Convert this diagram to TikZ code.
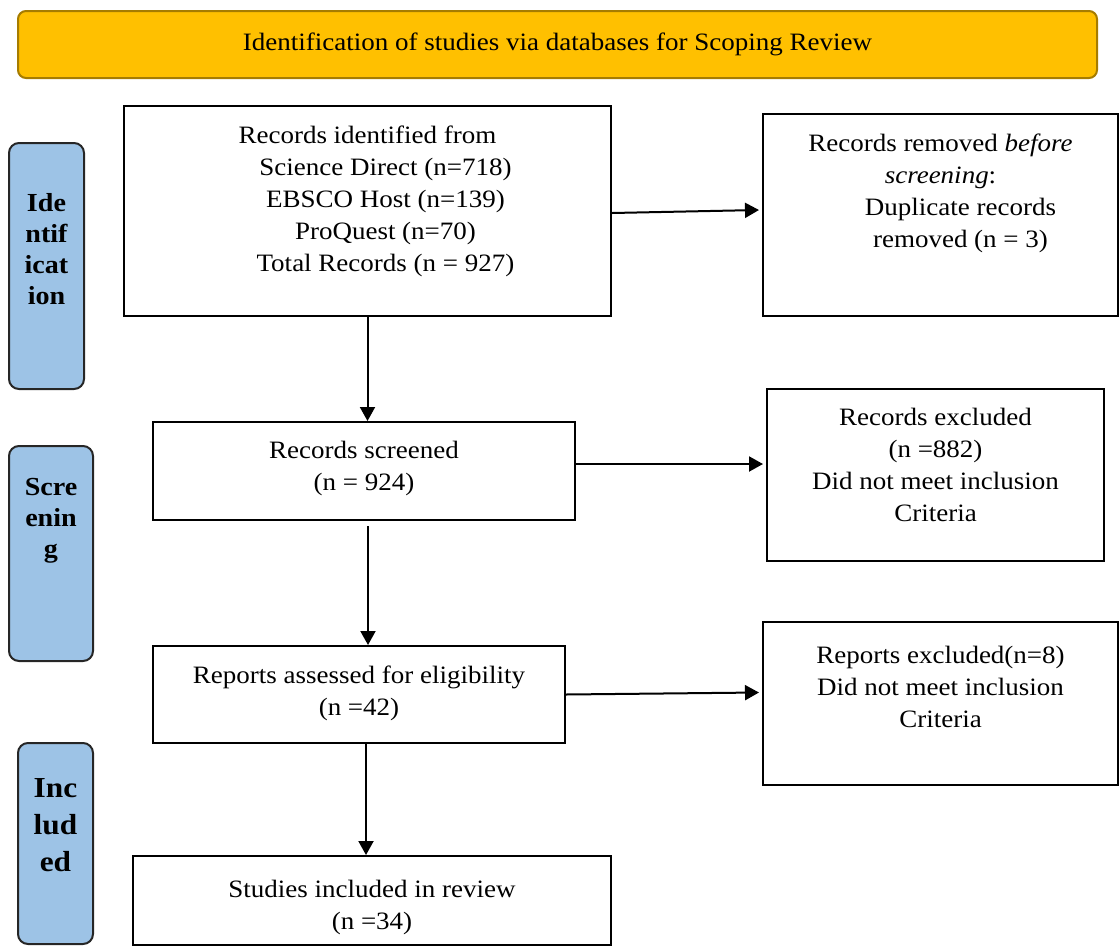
\documentclass[tikz,border=0pt]{standalone}
\usepackage{fontspec}
\setmainfont{Liberation Serif}[FakeStretch=1.08]
\usetikzlibrary{positioning,arrows.meta}

\definecolor{headgold}{HTML}{FFC000}
\definecolor{headedge}{HTML}{A67C00}
\definecolor{stageblue}{HTML}{9DC3E6}

\tikzset{
	box/.style={draw, line width=2pt, rectangle, inner sep=0pt},
	stage/.style={draw=black!85, line width=2pt, fill=stageblue, rounded corners=10pt, inner sep=0pt},
	txt/.style={align=center, font=\fontsize{25}{32}\selectfont, inner sep=0pt},
	stagetxt/.style={align=center, font=\fontsize{26}{31}\selectfont\bfseries, inner sep=0pt},
	arr/.style={-{Triangle[length=14pt,width=15pt]}, line width=2pt},
}

\begin{document}
\begin{tikzpicture}[x=1pt, y=-1pt]

	\useasboundingbox (0,0) rectangle (1120,946);

	% header bar
	\node[draw=headedge, line width=2pt, fill=headgold, rounded corners=8pt,
		minimum width=1079pt, minimum height=67pt, txt] (head) at (557.5,44.5)
		{Identification of studies via databases for Scoping Review};

	% stage labels on the left
	\node[stage, minimum width=75pt, minimum height=246pt] (idlab) at (46.5,266) {};
	\node[stagetxt, below=51pt of idlab.north] (idtxt) {Ide\\ntif\\icat\\ion};

	\node[stage, minimum width=84pt, minimum height=215pt] (scrlab) at (51,553.5) {};
	\node[stagetxt, below=33pt of scrlab.north] (scrtxt) {Scre\\enin\\g};

	\node[stage, minimum width=75pt, minimum height=201pt] (inclab) at (55.5,843.5) {};
	\node[stagetxt, font=\fontsize{29}{37}\selectfont\bfseries, below=36pt of inclab.north] (inctxt) {Inc\\lud\\ed};

	% main column
	\node[box, minimum width=487pt, minimum height=210pt] (ident) at (367.5,211) {};
	\node[txt, below=21pt of ident.north] (identtxt)
		{Records identified from\\\hspace*{36pt}Science Direct (n=718)\\\hspace*{36pt}EBSCO Host (n=139)\\\hspace*{36pt}ProQuest (n=70)\\\hspace*{36pt}Total Records (n = 927)};

	\node[box, minimum width=422pt, minimum height=98pt] (screened) at (364,471) {};
	\node[txt, below=20pt of screened.north] (screenedtxt) {Records screened\\(n = 924)};

	\node[box, minimum width=412pt, minimum height=97pt] (assess) at (359,694.5) {};
	\node[txt, below=21pt of assess.north] (assesstxt) {Reports assessed for eligibility\\(n =42)};

	\node[box, minimum width=478pt, minimum height=89pt] (incl) at (372,900.5) {};
	\node[txt, below=25pt of incl.north] (incltxt) {Studies included in review\\(n =34)};

	% excluded column
	\node[box, minimum width=355pt, minimum height=202pt] (removed) at (940.5,215) {};
	\node[txt, below=21pt of removed.north] (removedtxt)
		{Records removed \textit{before}\\\textit{screening}:\\\hspace*{40pt}Duplicate records\\\hspace*{40pt}removed (n = 3)};

	\node[box, minimum width=337pt, minimum height=172pt] (excl) at (935.5,475) {};
	\node[txt, below=20pt of excl.north] (excltxt)
		{Records excluded\\(n =882)\\Did not meet inclusion\\Criteria};

	\node[box, minimum width=355pt, minimum height=163pt] (repexcl) at (940.5,703.5) {};
	\node[txt, below=25pt of repexcl.north] (repexcltxt)
		{Reports excluded(n=8)\\Did not meet inclusion\\Criteria};

	% arrows
	\draw[arr] ([yshift=-2pt]ident.east) -- ([xshift=-3pt,yshift=5pt]removed.west);
	\draw[arr] (ident.south) -- (ident.south |- screened.north);
	\draw[arr] ([yshift=7pt]screened.east) -- ([xshift=-3pt,yshift=7pt]screened.east -| excl.west);
	\draw[arr] ([xshift=4pt,yshift=-5pt]screened.south) -- ([xshift=4pt]screened.south |- assess.north);
	\draw[arr] (assess.east) -- ([xshift=-3pt,yshift=11pt]repexcl.west);
	\draw[arr] ([xshift=7pt]assess.south) -- ([xshift=7pt]assess.south |- incl.north);

\end{tikzpicture}
\end{document}
